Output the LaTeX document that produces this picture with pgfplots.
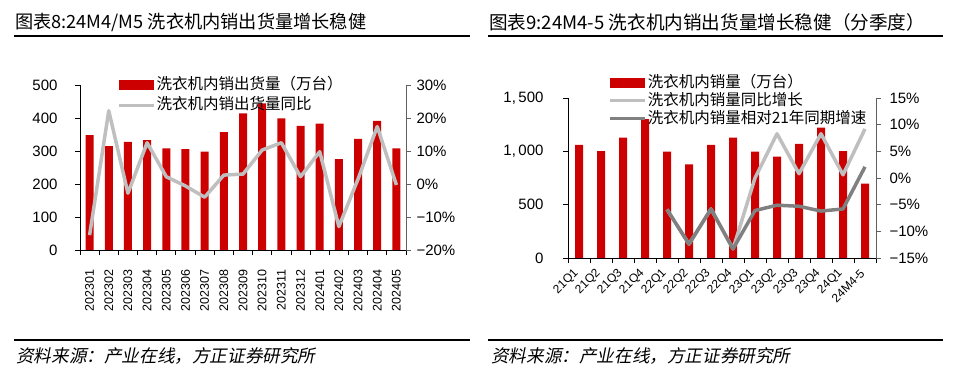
\documentclass[border=0pt]{standalone}
\usepackage{fontspec}
\setmainfont{Liberation Sans}
\newfontfamily\cjk{Noto Sans CJK SC}
\newfontfamily\cjkit[FakeSlant=0.2]{Noto Sans CJK SC}
\usepackage{pgfplots}
\pgfplotsset{compat=1.18}
\definecolor{barred}{RGB}{204,0,0}
\definecolor{lgray}{RGB}{191,191,191}
\definecolor{dgray}{RGB}{128,128,128}
\definecolor{axgray}{RGB}{95,95,95}
\pgfplotsset{
  common/.style={scale only axis, clip=false, tick align=outside,
    major tick length=5pt},
  legfont/.style={font=\cjk\fontsize{15.5}{15.5}\selectfont},
}
\begin{document}
\begin{tikzpicture}
\path[use as bounding box] (0pt,0pt) rectangle (960pt,371pt);
% titles
\node[anchor=west, inner sep=0pt] at (15pt,349pt) {\cjk\fontsize{18.2}{20}\selectfont 图表8:24M4/M5 洗衣机内销出货量增长稳健};
\node[anchor=west, inner sep=0pt] at (489pt,349pt) {\cjk\fontsize{18.6}{20}\selectfont 图表9:24M4-5 洗衣机内销出货量增长稳健（分季度）};
\draw[line width=1.5pt] (14pt,335pt) -- (470pt,335pt);
\draw[line width=1.5pt] (488pt,335pt) -- (943pt,335pt);
\draw[line width=1.2pt] (14pt,31pt) -- (470pt,31pt);
\draw[line width=1.2pt] (488pt,31pt) -- (943pt,31pt);
\node[anchor=west, inner sep=0pt] at (16pt,15pt) {\cjkit\fontsize{17.6}{20}\selectfont 资料来源：产业在线，方正证券研究所};
\node[anchor=west, inner sep=0pt] at (491pt,15pt) {\cjkit\fontsize{17.6}{20}\selectfont 资料来源：产业在线，方正证券研究所};

% ---------- left chart ----------
\begin{axis}[common,
  at={(80pt,121pt)}, anchor=south west, width=326pt, height=165pt,
  xmin=-0.5, xmax=16.5, ymin=0, ymax=500,
  axis y line*=left, axis x line*=bottom,
  axis line style={black, line width=0.8pt},
  tick style={black, line width=0.8pt},
  ytick={0,100,200,300,400,500},
  yticklabels={0,100,200,300,400,500},
  yticklabel style={font=\fontsize{15}{15}\selectfont, xshift=-14pt},
  xtick={-0.5,0.5,...,16.5},
  x tick label as interval,
  xticklabels={202301,202302,202303,202304,202305,202306,202307,202308,202309,202310,202311,202312,202401,202402,202403,202404,202405},
  xticklabel style={font=\fontsize{12.5}{12.5}\selectfont, yshift=-11pt, rotate=90, anchor=east},
  ybar, bar width=8pt,
]
\addplot[fill=barred, draw=none] coordinates {
(0,348) (1,315) (2,328) (3,333) (4,308) (5,306) (6,298) (7,357) (8,414)
(9,444) (10,399) (11,376) (12,383) (13,275) (14,337) (15,391) (16,308)};
\end{axis}
\begin{axis}[common,
  at={(80pt,121pt)}, anchor=south west, width=326pt, height=165pt,
  xmin=-0.5, xmax=16.5, ymin=-20, ymax=30,
  axis y line*=right, axis x line=none,
  axis line style={axgray, line width=0.8pt},
  tick style={axgray, line width=0.8pt},
  ytick={-20,-10,0,10,20,30},
  yticklabels={−20\%,−10\%,0\%,10\%,20\%,30\%},
  yticklabel style={font=\fontsize{15}{15}\selectfont, xshift=2pt},
  legend style={at={(0.113,1.05)}, anchor=north west, draw=none, fill=none,
    inner sep=0pt, row sep=3pt, legfont,
    nodes={inner sep=1pt, text height=12pt, text depth=3pt},
    /tikz/every even column/.append style={column sep=4pt}},
  legend cell align=left,
]
\addlegendimage{fill=barred, draw=none, legend image code/.code={\fill[barred] (0pt,-5pt) rectangle (35pt,5pt);}}
\addlegendentry{洗衣机内销出货量（万台）}
\addplot[lgray, line width=3.5pt, line join=round,
  legend image code/.code={\draw[lgray, line width=3.5pt] (0pt,0pt) -- (35pt,0pt);}] coordinates {
(0,-15.5) (1,22.2) (2,-2.8) (3,12.5) (4,2.2) (5,-0.6) (6,-4) (7,2.7) (8,3)
(9,10.3) (10,12.5) (11,2.2) (12,9.8) (13,-12.9) (14,1.5) (15,17.4) (16,-0.3)};
\addlegendentry{洗衣机内销出货量同比}
\end{axis}

% ---------- right chart ----------
\begin{axis}[common,
  at={(568pt,113pt)}, anchor=south west, width=308pt, height=160pt,
  xmin=-0.5, xmax=13.5, ymin=0, ymax=1500,
  axis y line*=left, axis x line*=bottom,
  axis line style={black, line width=0.8pt},
  tick style={black, line width=0.8pt},
  ytick={0,500,1000,1500},
  yticklabels={0,500,{1,\,000},{1,\,500}},
  yticklabel style={font=\fontsize{15}{15}\selectfont, xshift=-16pt},
  xtick={-0.5,0.5,...,13.5},
  x tick label as interval,
  xticklabels={21Q1,21Q2,21Q3,21Q4,22Q1,22Q2,22Q3,22Q4,23Q1,23Q2,23Q3,23Q4,24Q1,24M4-5},
  xticklabel style={font=\fontsize{12}{12}\selectfont, yshift=-6pt, xshift=0pt, rotate=45, anchor=east},
  ybar, bar width=8pt,
]
\addplot[fill=barred, draw=none] coordinates {
(0,1060) (1,1003) (2,1129) (3,1302) (4,997) (5,877) (6,1060) (7,1129)
(8,997) (9,950) (10,1069) (11,1223) (12,1003) (13,698)};
\end{axis}
\begin{axis}[common,
  at={(568pt,113pt)}, anchor=south west, width=308pt, height=160pt,
  xmin=-0.5, xmax=13.5, ymin=-15, ymax=15,
  axis y line*=right, axis x line=none,
  axis line style={axgray, line width=0.8pt},
  tick style={axgray, line width=0.8pt},
  ytick={-15,-10,-5,0,5,10,15},
  yticklabels={−15\%,−10\%,−5\%,0\%,5\%,10\%,15\%},
  yticklabel style={font=\fontsize{15}{15}\selectfont, xshift=5pt},
  legend style={at={(0.13,1.15)}, anchor=north west, draw=none, fill=none,
    inner sep=0pt, row sep=1pt, legfont,
    nodes={inner sep=1pt, text height=12pt, text depth=3pt},
    /tikz/every even column/.append style={column sep=4pt}},
  legend cell align=left,
]
\addlegendimage{fill=barred, draw=none, legend image code/.code={\fill[barred] (0pt,-5pt) rectangle (35pt,5pt);}}
\addlegendentry{洗衣机内销量（万台）}
\addplot[lgray, line width=3.5pt, line join=round,
  legend image code/.code={\draw[lgray, line width=3.5pt] (0pt,0pt) -- (35pt,0pt);}] coordinates {
(4,-5.9) (5,-12.4) (6,-5.8) (7,-13.3) (8,0) (9,8.3) (10,0.8) (11,8.3) (12,0.6) (13,9.2)};
\addlegendentry{洗衣机内销量同比增长}
\addplot[dgray, line width=3.5pt, line join=round,
  legend image code/.code={\draw[dgray, line width=3.5pt] (0pt,0pt) -- (35pt,0pt);}] coordinates {
(4,-5.9) (5,-12.4) (6,-5.8) (7,-13.3) (8,-6.1) (9,-5.1) (10,-5.3) (11,-6.2) (12,-5.8) (13,2.1)};
\addlegendentry{洗衣机内销量相对21年同期增速}
\end{axis}
\end{tikzpicture}
\end{document}
